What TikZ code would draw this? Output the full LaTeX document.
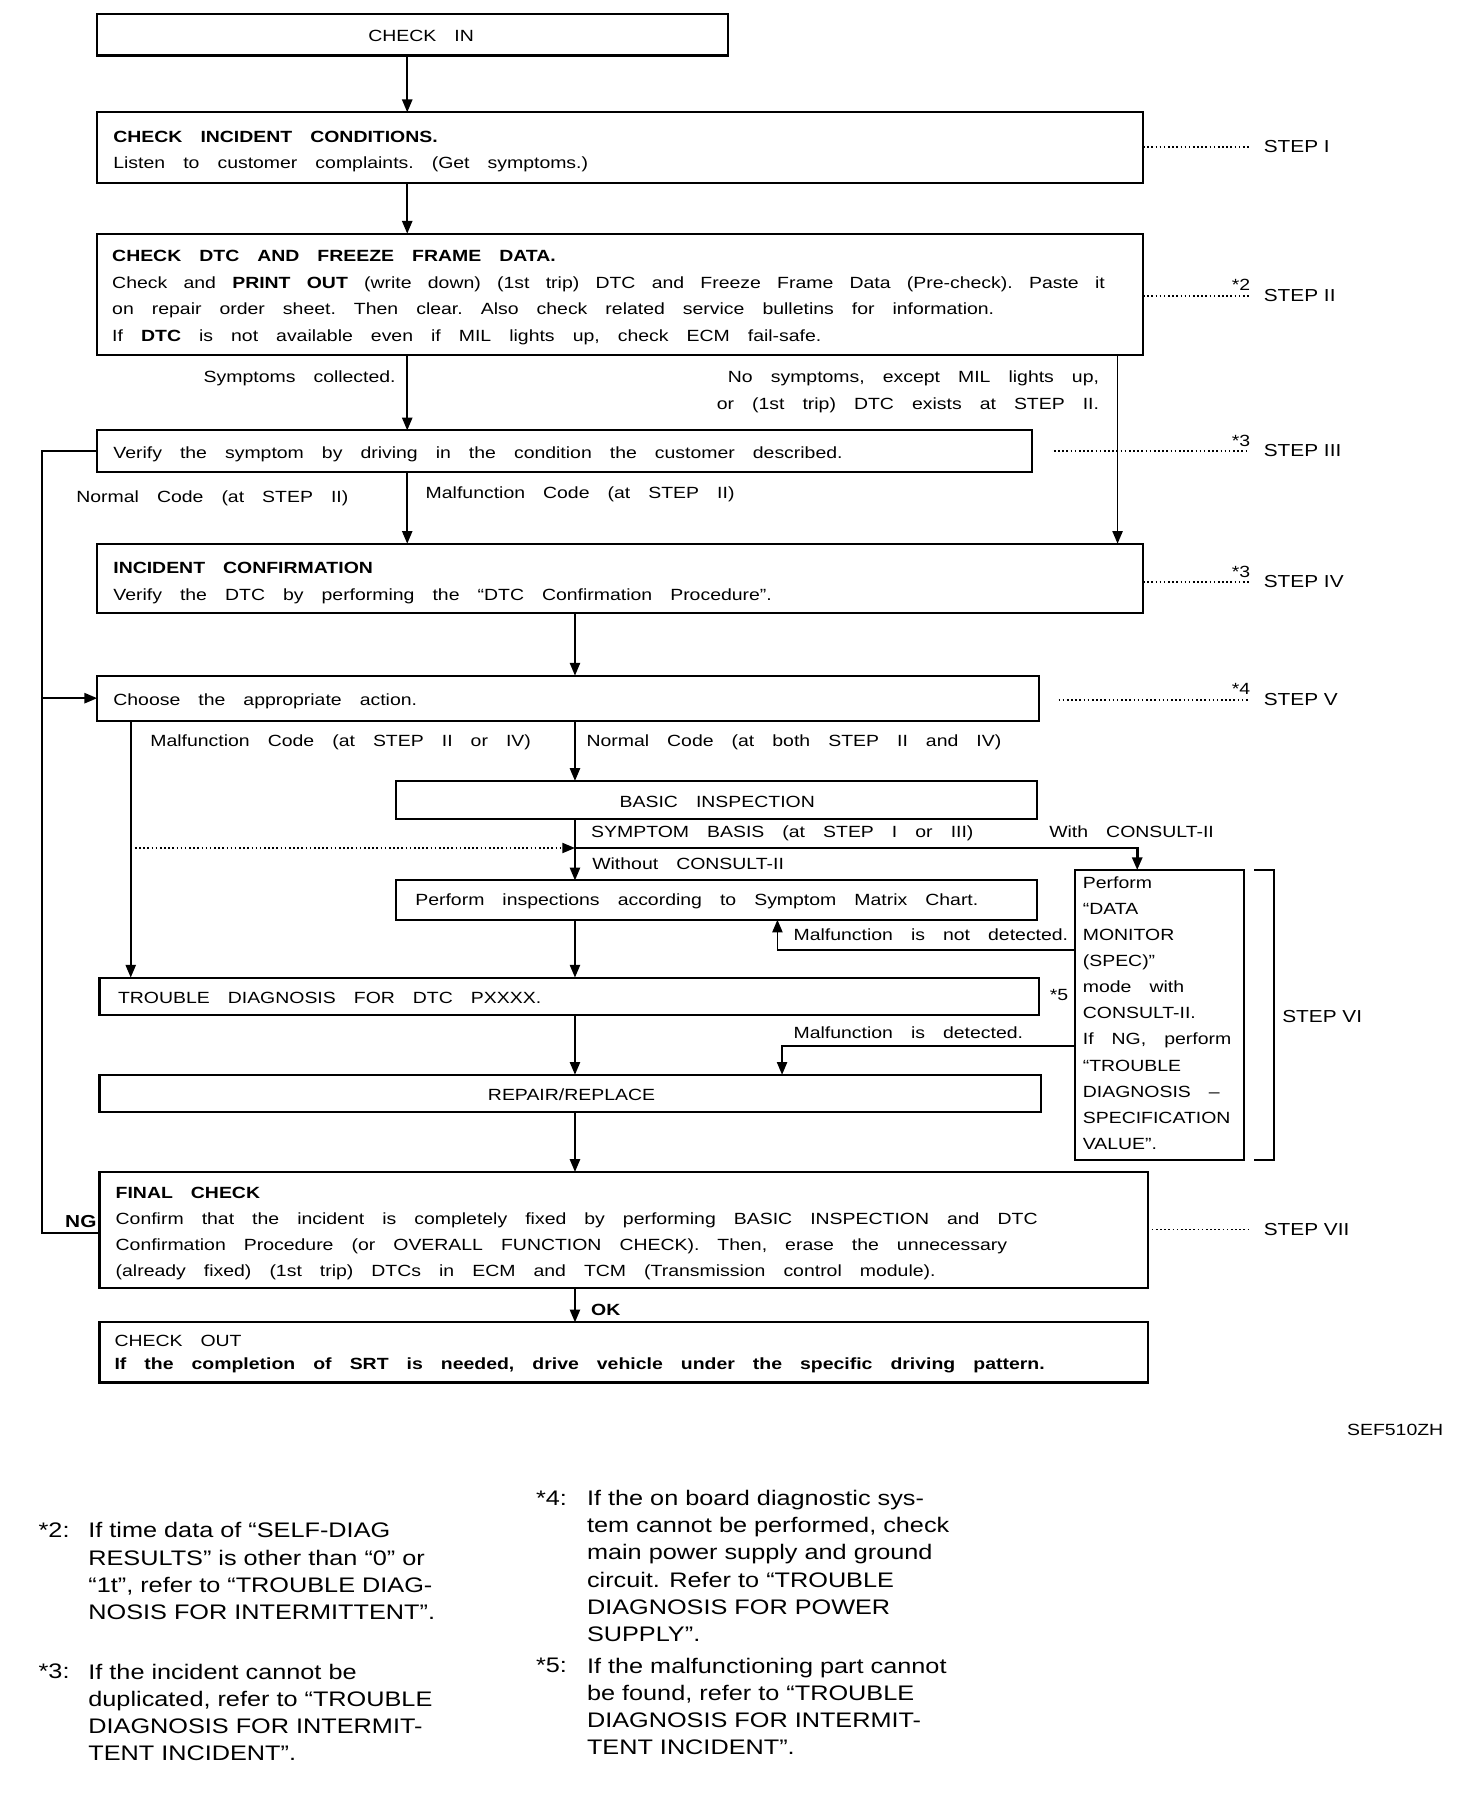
\documentclass[tikz,border=0pt]{standalone}
\usepackage{fontspec}
\setmainfont{Liberation Sans}
\newfontfamily\fcB{Liberation Sans}[FakeStretch=1.2]
\newcommand\fcBody[1]{\fcB\fontsize{7}{#1}\selectfont\frenchspacing\spaceskip=7.8pt plus 2pt minus 1pt\relax}
\newcommand\fcStep{\fcB\fontsize{7.5}{9}\selectfont}
\newcommand\fcSmall{\fcB\fontsize{7}{9}\selectfont}
\newcommand\fcNote{\fcB\fontsize{9.1}{11.75}\selectfont}
\newcommand\fcS{\rule{0pt}{7pt}}
\newcommand\fcSN{\rule{0pt}{9pt}}
\usetikzlibrary{fit,arrows.meta}
\begin{document}
\begin{tikzpicture}[x=0.5pt,y=-0.5pt,
  box/.style={draw,line width=0.9pt,inner sep=0pt,outer sep=0pt},
  ln/.style={line width=0.8pt},
  arr/.style={ln,-{Triangle[length=5.5pt,width=4.4pt]}},
  dots/.style={line width=0.7pt,dash pattern=on 0.7pt off 1.1pt},
  tx/.style={inner sep=0pt,outer sep=0pt,font=\fcBody{11.5}},
  ml/.style={tx,align=left,anchor=north west},
  stp/.style={inner sep=0pt,font=\fcStep,anchor=base west},
  mk/.style={inner sep=0pt,font=\fcSmall,anchor=base east},
  note/.style={inner sep=0pt,font=\fcNote}]
\path[fill=white,use as bounding box] (0,0) rectangle (1259,1568);

% ---------- boxes
\node[box,fit={(84,12) (629,48)}] (ci) {};
\node[box,fit={(84,97) (988,158)}] (b1) {};
\node[box,fit={(84,202) (988,307)}] (b2) {};
\node[box,fit={(84,372) (892,408)}] (b3) {};
\node[box,fit={(84,470) (988,530)}] (b4) {};
\node[box,fit={(84,584) (898,623)}] (b5) {};
\node[box,fit={(342,675) (896,708)}] (bi) {};
\node[box,fit={(342,761) (896,795)}] (pi) {};
\node[box,fit={(86,845) (898,877)}] (td) {};
\node[box,fit={(86,929) (900,961)}] (rr) {};
\node[box,fit={(929,752) (1075,1003)}] (dm) {};
\node[box,fit={(86,1013) (992,1113)}] (b7) {};
\node[box,fit={(86,1143) (992,1195)}] (co) {};

% ---------- texts in boxes
\node[tx,anchor=base] (tci) at (364,36) {CHECK IN};
\node[ml,font=\fcBody{11.25}] (t1) at (98,109) {\fcS\textbf{CHECK INCIDENT CONDITIONS.}\\Listen to customer complaints. (Get symptoms.)};
\node[ml] (t2) at (97,212) {\fcS\textbf{CHECK DTC AND FREEZE FRAME DATA.}\\\makebox[429pt][s]{Check and \textbf{PRINT OUT} (write down) (1st trip) DTC and Freeze Frame Data (Pre-check). Paste it}\\on repair order sheet. Then clear. Also check related service bulletins for information.\\If \textbf{DTC} is not available even if MIL lights up, check ECM fail-safe.};
\node[tx,anchor=base west] (t3) at (98,396) {Verify the symptom by driving in the condition the customer described.};
\node[ml] (t4) at (98,482) {\fcS\textbf{INCIDENT CONFIRMATION}\\Verify the DTC by performing the “DTC Confirmation Procedure”.};
\node[tx,anchor=base west] (t5) at (98,610) {Choose the appropriate action.};
\node[tx,anchor=base] (tbi) at (620,698) {BASIC INSPECTION};
\node[tx,anchor=base west] (tpi) at (359,783) {Perform inspections according to Symptom Matrix Chart.};
\node[tx,anchor=base west] (ttd) at (102,867) {TROUBLE DIAGNOSIS FOR DTC PXXXX.};
\node[tx,anchor=base] (trr) at (494,951) {REPAIR/REPLACE};
\node[ml,font=\fcBody{11.27}] (tdm) at (936,754) {\fcS Perform\\“DATA\\MONITOR\\(SPEC)”\\mode with\\CONSULT-II.\\If NG, perform\\“TROUBLE\\DIAGNOSIS –\\SPECIFICATION\\VALUE”.};
\node[ml,font=\fcBody{11.2}] (t7) at (100,1022) {\fcS\textbf{FINAL CHECK}\\Confirm that the incident is completely fixed by performing BASIC INSPECTION and DTC\\Confirmation Procedure (or OVERALL FUNCTION CHECK). Then, erase the unnecessary\\(already fixed) (1st trip) DTCs in ECM and TCM (Transmission control module).};
\node[ml,font=\fcBody{10}] (tco) at (99,1150) {\fcS CHECK OUT\\\textbf{If the completion of SRT is needed, drive vehicle under the specific driving pattern.}};

% ---------- connector labels
\node[tx,anchor=base east] (l1) at (342,331) {Symptoms collected.};
\node[tx,align=right,anchor=north east] (l2) at (950,317) {\fcS No symptoms, except MIL lights up,\\or (1st trip) DTC exists at STEP II.};
\node[tx,anchor=base west] (l3) at (66,434) {Normal Code (at STEP II)};
\node[tx,anchor=base west] (l4) at (368,431) {Malfunction Code (at STEP II)};
\node[tx,anchor=base west] (l5) at (130,645) {Malfunction Code (at STEP II or IV)};
\node[tx,anchor=base west] (l6) at (507,645) {Normal Code (at both STEP II and IV)};
\node[tx,anchor=base west] (l7) at (511,724) {SYMPTOM BASIS (at STEP I or III)};
\node[tx,anchor=base west] (l8) at (907,724) {With CONSULT-II};
\node[tx,anchor=base west] (l9) at (512,752) {Without CONSULT-II};
\node[tx,anchor=base west] (l10) at (686,813) {Malfunction is not detected.};
\node[tx,anchor=base west] (l11) at (686,898) {Malfunction is detected.};
\node[mk,anchor=base west] (m5) at (907,865) {*5};
\node[inner sep=0pt,font=\fcStep\bfseries,anchor=base west] (ng) at (56,1061) {NG};
\node[tx,anchor=base west,font=\fcBody{10}\bfseries] (ok) at (511,1137) {OK};
\node[inner sep=0pt,font=\fcSmall,anchor=base west] (code) at (1164,1241) {SEF510ZH};

% ---------- step labels
\node[stp] (s1) at (1092,132) {STEP I};
\node[stp] (s2) at (1092,261) {STEP II};
\node[stp] (s3) at (1092,395) {STEP III};
\node[stp] (s4) at (1092,508) {STEP IV};
\node[stp] (s5) at (1092,610) {STEP V};
\node[stp] (s6) at (1108,884) {STEP VI};
\node[stp] (s7) at (1092,1068) {STEP VII};
\node[mk] (m2) at (1081,251) {*2};
\node[mk] (m3) at (1081,386) {*3};
\node[mk] (m3b) at (1081,499) {*3};
\node[mk] (m4) at (1081,600) {*4};

% ---------- helper coordinates
\coordinate (xa) at (352,0);
\coordinate (xb) at (497,0);
\coordinate (xr) at (966,0);
\coordinate (xl) at (113,0);
\coordinate (xc) at (983,0);
\coordinate (xnd) at (672,0);
\coordinate (xd) at (676,0);
\coordinate (lp) at (36,0);
\coordinate (dx) at (1080,0);
\coordinate (d3) at (911,0);
\coordinate (d5) at (915,0);
\coordinate (yj) at (0,733);
\coordinate (ynd) at (0,821);
\coordinate (yd) at (0,904);
\coordinate (yng) at (0,1066);

% ---------- connectors
\draw[arr] (ci.south -| xa) -- (b1.north -| xa);
\draw[arr] (b1.south -| xa) -- (b2.north -| xa);
\draw[arr] (b2.south -| xa) -- (b3.north -| xa);
\draw[arr] (b2.south -| xr) -- (b4.north -| xr);
\draw[arr] (b3.south -| xa) -- (b4.north -| xa);
\draw[arr] (b4.south -| xb) -- (b5.north -| xb);
\draw[arr] (b5.south -| xl) -- (td.north -| xl);
\draw[arr] (b5.south -| xb) -- (bi.north -| xb);
\draw[arr] (bi.south -| xb) -- (pi.north -| xb);
\draw[dots,-{Triangle[length=5.5pt,width=4.4pt]}] (xl |- yj) -- (xb |- yj);
\draw[arr,line width=1.1pt] (xb |- yj) -| (dm.north -| xc);
\draw[arr] (dm.west |- ynd) -| (pi.south -| xnd);
\draw[arr] (pi.south -| xb) -- (td.north -| xb);
\draw[arr] (td.south -| xb) -- (rr.north -| xb);
\draw[arr] (dm.west |- yd) -| (rr.north -| xd);
\draw[arr] (rr.south -| xb) -- (b7.north -| xb);
\draw[arr] (b7.south -| xb) -- (co.north -| xb);
\draw[ln] (b7.west |- yng) -- (lp |- yng) -- (lp |- b3.west) -- (b3.west);
\draw[arr] (lp |- b5.west) -- (b5.west);
\draw[line width=0.9pt] (1084,752) -- (1101,752) -- (1101,1003) -- (1084,1003);

% ---------- dotted step leaders
\draw[dots] (b1.east |- s1.west) -- (dx |- s1.west);
\draw[dots] (b2.east |- s2.west) -- (dx |- s2.west);
\draw[dots] (d3 |- s3.west) -- (dx |- s3.west);
\draw[dots] (b4.east |- s4.west) -- (dx |- s4.west);
\draw[dots] (d5 |- s5.west) -- (dx |- s5.west);
\draw[dots] (b7.east |- s7.west) -- (dx |- s7.west);

% ---------- footnotes
\node[note,anchor=base west] (n2) at (33,1329) {*2:};
\node[note,align=left,anchor=north west] (n2t) at (76,1311) {\fcSN If time data of “SELF-DIAG\\RESULTS” is other than “0” or\\“1t”, refer to “TROUBLE DIAG-\\NOSIS FOR INTERMITTENT”.};
\node[note,anchor=base west] (n3) at (33,1451) {*3:};
\node[note,align=left,anchor=north west] (n3t) at (76,1433) {\fcSN If the incident cannot be\\duplicated, refer to “TROUBLE\\DIAGNOSIS FOR INTERMIT-\\TENT INCIDENT”.};
\node[note,anchor=base west] (n4) at (463,1301) {*4:};
\node[note,align=left,anchor=north west] (n4t) at (507,1283) {\fcSN If the on board diagnostic sys-\\tem cannot be performed, check\\main power supply and ground\\circuit. Refer to “TROUBLE\\DIAGNOSIS FOR POWER\\SUPPLY”.};
\node[note,anchor=base west] (n5) at (463,1446) {*5:};
\node[note,align=left,anchor=north west] (n5t) at (507,1428) {\fcSN If the malfunctioning part cannot\\be found, refer to “TROUBLE\\DIAGNOSIS FOR INTERMIT-\\TENT INCIDENT”.};
\end{tikzpicture}
\end{document}
